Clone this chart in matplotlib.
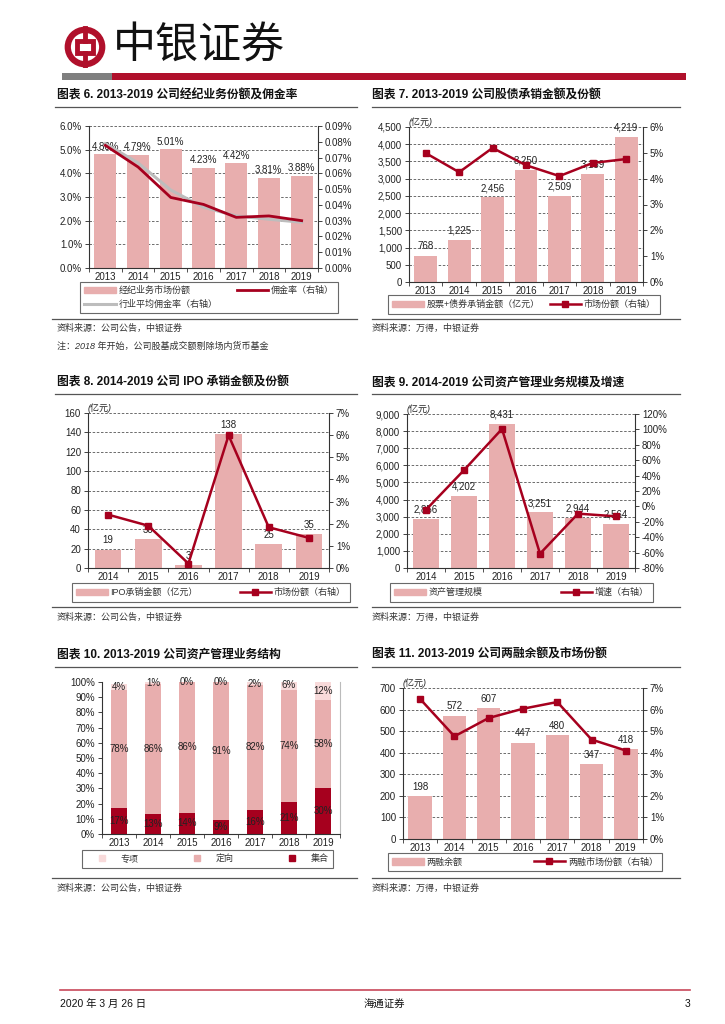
import matplotlib
matplotlib.use("Agg")
import matplotlib.pyplot as plt
from matplotlib.lines import Line2D
from matplotlib.patches import Patch, Rectangle, Circle
from matplotlib.ticker import FuncFormatter, MultipleLocator
import numpy as np

plt.rcParams['font.family'] = ['Liberation Sans', 'Noto Sans CJK SC']
plt.rcParams['axes.unicode_minus'] = False

# ---------------- data ----------------
years_13 = ['2013', '2014', '2015', '2016', '2017', '2018', '2019']
years_14 = ['2014', '2015', '2016', '2017', '2018', '2019']

# Chart 6
brokerage_share = [4.80, 4.79, 5.01, 4.23, 4.42, 3.81, 3.88]
commission_rate = [0.0777, 0.0640, 0.0447, 0.0403, 0.0321, 0.0330, 0.0300]
industry_rate = [0.0788, 0.0666, 0.0494, 0.0385, 0.0330, 0.0309, 0.0290]

# Chart 7
underwriting_amt = [768, 1225, 2456, 3250, 2509, 3139, 4219]
underwriting_share = [4.99, 4.25, 5.19, 4.52, 4.10, 4.61, 4.76]

# Chart 8
ipo_amt = [19, 30, 3, 138, 25, 35]
ipo_share = [2.41, 1.91, 0.20, 5.99, 1.84, 1.36]

# Chart 9
am_scale = [2856, 4202, 8431, 3251, 2944, 2564]
am_growth = [-4.4, 47.1, 100.6, -61.4, -9.4, -12.9]

# Chart 10
am_jihe = [17, 13, 14, 9, 16, 21, 30]
am_dingxiang = [78, 86, 86, 91, 82, 74, 58]
am_zhuanxiang = [4, 1, 0, 0, 2, 6, 12]

# Chart 11
margin_bal = [198, 572, 607, 447, 480, 347, 418]
margin_share = [6.49, 4.76, 5.61, 6.04, 6.35, 4.61, 4.10]

# ---------------- style ----------------
W, H = 725, 1024
BAR = '#E8AEAE'
RED = '#A6001E'
GREY = '#BDBDBD'
LIGHT = '#F8DADA'
TXT = '#222222'

fig = plt.figure(figsize=(7.25, 10.24), dpi=100)


def px(l, t, r, b):
    return [l / W, 1 - b / H, (r - l) / W, (b - t) / H]


def ftext(x, y, s, **kw):
    kw.setdefault('va', 'center')
    fig.text(x / W, 1 - y / H, s, **kw)


def hline(x0, x1, y, color='#555555', lw=1.0):
    fig.add_artist(Line2D([x0 / W, x1 / W], [1 - y / H, 1 - y / H],
                          transform=fig.transFigure, color=color, lw=lw))


def style(ax, ax2=None, grid=True):
    ax.spines['top'].set_visible(False)
    ax.spines['right'].set_visible(False)
    ax.spines['left'].set_color('#333333')
    ax.spines['bottom'].set_color('#333333')
    ax.spines['left'].set_linewidth(0.8)
    ax.spines['bottom'].set_linewidth(0.8)
    ax.tick_params(axis='y', labelsize=7, length=3, width=0.6, colors=TXT, pad=2)
    ax.tick_params(axis='x', labelsize=7, length=0, colors=TXT, pad=3)
    if grid:
        ax.yaxis.grid(True, color='#555555', linestyle=(0, (3, 2)), linewidth=0.6)
    ax.set_axisbelow(True)
    if ax2 is not None:
        for s in ['top', 'left', 'bottom']:
            ax2.spines[s].set_visible(False)
        ax2.spines['right'].set_color('#333333')
        ax2.spines['right'].set_linewidth(0.8)
        ax2.tick_params(axis='y', labelsize=7, length=3, width=0.6, colors=TXT, pad=2)


def xcats(ax, labels):
    n = len(labels)
    ax.set_xlim(-0.5, n - 0.5)
    ax.set_xticks(range(n))
    ax.set_xticklabels(labels)
    ax.set_xticks(np.arange(-0.5, n, 1.0), minor=True)
    ax.tick_params(axis='x', which='minor', length=3, width=0.6, color='#333333')


def legend(ax, handles, labels, box, ncol=2):
    l, t, r, b = box
    leg = ax.legend(handles, labels, loc='center',
                    bbox_to_anchor=(l / W, 1 - b / H, (r - l) / W, (b - t) / H),
                    bbox_transform=fig.transFigure, mode='expand', ncol=ncol,
                    fontsize=6.5, frameon=True, fancybox=False, handlelength=3.5,
                    borderpad=0.5, labelspacing=0.5, handletextpad=0.3,
                    columnspacing=1.0)
    leg.get_frame().set_edgecolor('#444444')
    leg.get_frame().set_linewidth(0.8)
    for t_ in leg.get_texts():
        t_.set_color('#333333')
    return leg


pct1 = FuncFormatter(lambda v, p: f'{v:.1f}%')
pct2 = FuncFormatter(lambda v, p: f'{v:.2f}%')
pct0 = FuncFormatter(lambda v, p: f'{v:.0f}%')
comma = FuncFormatter(lambda v, p: f'{v:,.0f}')

# ---------------- header ----------------
lax = fig.add_axes(px(64, 26, 106, 68))
lax.set_xlim(-1, 1)
lax.set_ylim(-1, 1)
lax.set_aspect('equal')
lax.axis('off')
lax.add_patch(Circle((0, 0), 0.82, fill=False, ec='#B0102B', lw=4.5))
lax.add_patch(Rectangle((-0.4, -0.3), 0.8, 0.6, fill=False, ec='#B0102B', lw=3.5))
lax.plot([0, 0], [-0.9, -0.3], color='#B0102B', lw=3.5)
lax.plot([0, 0], [0.3, 0.9], color='#B0102B', lw=3.5)
ftext(113, 46, '中银证券', fontsize=31, family='Noto Sans CJK SC', color='#111111')
fig.add_artist(Rectangle((62 / W, 1 - 80 / H), 50 / W, 7 / H, transform=fig.transFigure,
                         color='#7F7F7F', lw=0))
fig.add_artist(Rectangle((112 / W, 1 - 80 / H), 574 / W, 7 / H, transform=fig.transFigure,
                         color='#B0102B', lw=0))

# ---------------- titles / sources ----------------
titles = [
    (57, 96, '图表 6. 2013-2019 公司经纪业务份额及佣金率'),
    (372, 96, '图表 7. 2013-2019 公司股债承销金额及份额'),
    (57, 383, '图表 8. 2014-2019 公司 IPO 承销金额及份额'),
    (372, 383, '图表 9. 2014-2019 公司资产管理业务规模及增速'),
    (57, 655, '图表 10. 2013-2019 公司资产管理业务结构'),
    (372, 655, '图表 11. 2013-2019 公司两融余额及市场份额'),
]
for x, y, s in titles:
    ftext(x, y, s, fontsize=8.5, fontweight='bold', color='#111111')
for y in (107, 394, 667):
    hline(55, 357, y, lw=0.9)
    hline(372, 680, y, lw=0.9)
for y in (319, 607, 878):
    hline(52, 357, y, lw=0.9)
    hline(372, 680, y, lw=0.9)

src_l = '资料来源：公司公告，中银证券'
src_r = '资料来源：万得，中银证券'
for y in (328, 617, 888):
    ftext(57, y, src_l, fontsize=6.5, color='#333333', style='italic')
    ftext(372, y, src_r, fontsize=6.5, color='#333333', style='italic')
ftext(57, 346, '注：2018 年开始，公司股基成交额剔除场内货币基金', fontsize=6.5,
      color='#333333', style='italic')

# footer
hline(60, 690, 990, color='#C8485A', lw=1.2)
ftext(60, 1004, '2020 年 3 月 26 日', fontsize=7.5, color='#111111')
ftext(384, 1004, '海通证券', fontsize=7.5, color='#111111', ha='center')
ftext(690, 1004, '3', fontsize=7.5, color='#111111', ha='right')

# ---------------- Chart 6 ----------------
ax = fig.add_axes(px(89, 126, 318, 268))
ax2 = ax.twinx()
x = np.arange(len(years_13))
ax.bar(x, brokerage_share, width=0.68, color=BAR, zorder=2)
for i, v in enumerate(brokerage_share):
    ax.annotate(f'{v:.2f}%', (i, v), xytext=(0, 2), textcoords='offset points',
                ha='center', va='bottom', fontsize=7, color=TXT)
ax.set_ylim(0, 6)
ax.yaxis.set_major_locator(MultipleLocator(1))
ax.yaxis.set_major_formatter(pct1)
xcats(ax, years_13)
ax2.plot(x, industry_rate, color=GREY, lw=2.2)
ax2.plot(x, commission_rate, color=RED, lw=2.0)
ax2.set_ylim(0, 0.09)
ax2.yaxis.set_major_locator(MultipleLocator(0.01))
ax2.yaxis.set_major_formatter(pct2)
style(ax, ax2)
legend(ax, [Patch(color=BAR), Line2D([], [], color=GREY, lw=2.2),
            Line2D([], [], color=RED, lw=2.0)],
       ['经纪业务市场份额', '行业平均佣金率（右轴）', '佣金率（右轴）'],
       (75, 279, 343, 316))

# ---------------- Chart 7 ----------------
ax = fig.add_axes(px(409, 127, 643, 282))
ax2 = ax.twinx()
ax.bar(x, underwriting_amt, width=0.68, color=BAR, zorder=2)
for i, v in enumerate(underwriting_amt):
    ax.annotate(f'{v:,}', (i, v), xytext=(0, 3), textcoords='offset points',
                ha='center', va='bottom', fontsize=7, color=TXT)
ax.set_ylim(0, 4500)
ax.yaxis.set_major_locator(MultipleLocator(500))
ax.yaxis.set_major_formatter(comma)
xcats(ax, years_13)
ax.text(0.0, 1.0, '(亿元)', transform=ax.transAxes, fontsize=6.5, color=TXT,
        ha='left', va='bottom', style='italic')
ax2.plot(x, underwriting_share, color=RED, lw=1.8, marker='s', markersize=5)
ax2.set_ylim(0, 6)
ax2.yaxis.set_major_locator(MultipleLocator(1))
ax2.yaxis.set_major_formatter(pct0)
style(ax, ax2)
legend(ax, [Patch(color=BAR), Line2D([], [], color=RED, lw=1.8, marker='s', markersize=4)],
       ['股票+债券承销金额（亿元）', '市场份额（右轴）'], (383, 294, 665, 315))

# ---------------- Chart 8 ----------------
ax = fig.add_axes(px(88, 413, 329, 568))
ax2 = ax.twinx()
x6 = np.arange(len(years_14))
ax.bar(x6, ipo_amt, width=0.66, color=BAR, zorder=2)
for i, v in enumerate(ipo_amt):
    ax.annotate(f'{v}', (i, v), xytext=(0, 3), textcoords='offset points',
                ha='center', va='bottom', fontsize=7, color=TXT)
ax.set_ylim(0, 160)
ax.yaxis.set_major_locator(MultipleLocator(20))
xcats(ax, years_14)
ax.text(0.0, 1.0, '(亿元)', transform=ax.transAxes, fontsize=6.5, color=TXT,
        ha='left', va='bottom', style='italic')
ax2.plot(x6, ipo_share, color=RED, lw=1.8, marker='s', markersize=5)
ax2.set_ylim(0, 7)
ax2.yaxis.set_major_locator(MultipleLocator(1))
ax2.yaxis.set_major_formatter(pct0)
style(ax, ax2)
legend(ax, [Patch(color=BAR), Line2D([], [], color=RED, lw=1.8, marker='s', markersize=4)],
       ['IPO承销金额（亿元）', '市场份额（右轴）'], (67, 582, 355, 603))

# ---------------- Chart 9 ----------------
ax = fig.add_axes(px(407, 414, 635, 568))
ax2 = ax.twinx()
ax.bar(x6, am_scale, width=0.66, color=BAR, zorder=2)
for i, v in enumerate(am_scale):
    ax.annotate(f'{v:,}', (i, v), xytext=(0, 3), textcoords='offset points',
                ha='center', va='bottom', fontsize=7, color=TXT)
ax.set_ylim(0, 9000)
ax.yaxis.set_major_locator(MultipleLocator(1000))
ax.yaxis.set_major_formatter(comma)
xcats(ax, years_14)
ax.text(0.0, 1.0, '(亿元)', transform=ax.transAxes, fontsize=6.5, color=TXT,
        ha='left', va='bottom', style='italic')
ax2.plot(x6, am_growth, color=RED, lw=1.8, marker='s', markersize=5)
ax2.set_ylim(-80, 120)
ax2.yaxis.set_major_locator(MultipleLocator(20))
ax2.yaxis.set_major_formatter(pct0)
style(ax, ax2)
legend(ax, [Patch(color=BAR), Line2D([], [], color=RED, lw=1.8, marker='s', markersize=4)],
       ['资产管理规模', '增速（右轴）'], (385, 582, 658, 603))

# ---------------- Chart 10 ----------------
ax = fig.add_axes(px(102, 682, 340, 834))
jh = np.array(am_jihe, dtype=float)
dx = np.array(am_dingxiang, dtype=float)
zx = np.array(am_zhuanxiang, dtype=float)
ax.bar(x, jh, width=0.45, color=RED, zorder=2)
ax.bar(x, dx, width=0.45, bottom=jh, color=BAR, zorder=2)
ax.bar(x, zx, width=0.45, bottom=jh + dx, color=LIGHT, zorder=2)
for i in range(len(x)):
    ax.text(i, jh[i] / 2, f'{am_jihe[i]}%', ha='center', va='center', fontsize=7, color=TXT)
    ax.text(i, jh[i] + dx[i] / 2, f'{am_dingxiang[i]}%', ha='center', va='center',
            fontsize=7, color=TXT)
    ax.text(i, jh[i] + dx[i] + zx[i] / 2, f'{am_zhuanxiang[i]}%', ha='center', va='center',
            fontsize=7, color=TXT)
ax.set_ylim(0, 100)
ax.yaxis.set_major_locator(MultipleLocator(10))
ax.yaxis.set_major_formatter(pct0)
xcats(ax, years_13)
style(ax, grid=False)
ax.spines['right'].set_visible(True)
ax.spines['right'].set_color('#BBBBBB')
ax.spines['right'].set_linewidth(0.8)
sq = dict(marker='s', linestyle='none', markersize=4)
legend(ax, [Line2D([], [], color=LIGHT, **sq), Line2D([], [], color=BAR, **sq),
            Line2D([], [], color=RED, **sq)],
       ['专项', '定向', '集合'], (77, 849, 338, 869), ncol=3)

# ---------------- Chart 11 ----------------
ax = fig.add_axes(px(403, 688, 643, 839))
ax2 = ax.twinx()
ax.bar(x, margin_bal, width=0.68, color=BAR, zorder=2)
for i, v in enumerate(margin_bal):
    ax.annotate(f'{v}', (i, v), xytext=(0, 3), textcoords='offset points',
                ha='center', va='bottom', fontsize=7, color=TXT)
ax.set_ylim(0, 700)
ax.yaxis.set_major_locator(MultipleLocator(100))
xcats(ax, years_13)
ax.text(0.0, 1.0, '(亿元)', transform=ax.transAxes, fontsize=6.5, color=TXT,
        ha='left', va='bottom', style='italic')
ax2.plot(x, margin_share, color=RED, lw=1.8, marker='s', markersize=5)
ax2.set_ylim(0, 7)
ax2.yaxis.set_major_locator(MultipleLocator(1))
ax2.yaxis.set_major_formatter(pct0)
style(ax, ax2)
legend(ax, [Patch(color=BAR), Line2D([], [], color=RED, lw=1.8, marker='s', markersize=4)],
       ['两融余额', '两融市场份额（右轴）'], (383, 852, 667, 872))

fig.savefig('out.png', dpi=100)
